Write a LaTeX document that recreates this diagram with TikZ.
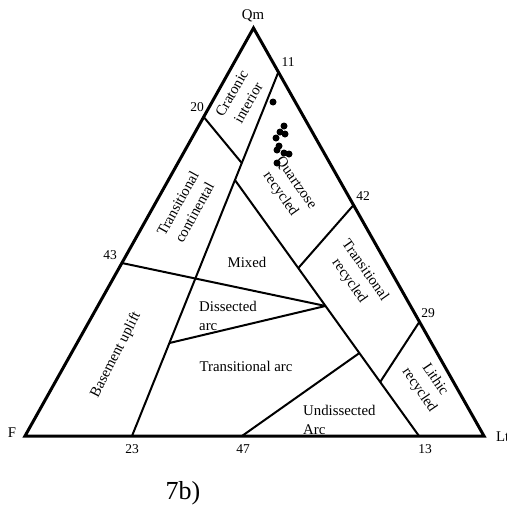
\documentclass[tikz,border=0pt]{standalone}
\usepackage{fontspec}
\setmainfont{Liberation Serif}
\usetikzlibrary{calc}
\begin{document}
\begin{tikzpicture}[x=1pt,y=-1pt,
  outer/.style={line width=3pt,line join=miter},
  inner/.style={line width=2pt},
  lab/.style={inner sep=0pt,font=\fontsize{14.8}{19}\selectfont,align=center},
  num/.style={inner sep=0pt,font=\fontsize{13.5}{16}\selectfont},
  dot/.style={circle,fill=black,inner sep=0pt,minimum size=7pt}]
\useasboundingbox (0,0) rectangle (507,506);
% vertices
\coordinate (Q) at (253.5,28);
\coordinate (F) at (25,436);
\coordinate (L) at (484,436);
% edge points
\coordinate (p11) at ($(Q)!0.108!(L)$);
\coordinate (p42) at ($(Q)!0.434!(L)$);
\coordinate (p29) at ($(Q)!0.72!(L)$);
\coordinate (p20) at ($(Q)!0.218!(F)$);
\coordinate (p43) at ($(Q)!0.576!(F)$);
\coordinate (p23) at (132,436);
\coordinate (p47) at (242,436);
\coordinate (p13) at (419,436);
% internal points
\coordinate (A) at ($(p11)!0.25!(p23)$);
\coordinate (B) at ($(p11)!0.2967!(p23)$);
\coordinate (H) at ($(p11)!0.7445!(p23)$);
\coordinate (C) at ($(B)!0.492!(p13)$);
\coordinate (D) at ($(B)!0.344!(p13)$);
\coordinate (G) at ($(B)!0.676!(p13)$);
\coordinate (E) at ($(B)!0.789!(p13)$);
% inner lines
\draw[inner] (p11) -- (p23);
\draw[inner] (p20) -- (A);
\draw[inner] (B) -- (p13);
\draw[inner] (p42) -- (D);
\draw[inner] (p29) -- (E);
\draw[inner] (p43) -- (C);
\draw[inner] (H) -- (C);
\draw[inner] (p47) -- (G);
% outer triangle
\draw[outer] (Q) -- (L) -- (F) -- cycle;
% vertex labels
\node[lab] (lQm) at (253,16) {Qm};
\node[lab] (lF) at (12,433) {F};
\node[lab,anchor=west] (lLt) at (496,437) {Lt};
% numbers
\node[num] (n11) at (288,62) {11};
\node[num] (n20) at (197,107) {20};
\node[num] (n43) at (110,255) {43};
\node[num] (n42) at (363,196) {42};
\node[num] (n29) at (428,313) {29};
\node[num] (n23) at (132,449) {23};
\node[num] (n47) at (243,449) {47};
\node[num] (n13) at (425,449) {13};
% region labels
\node[lab,rotate=60] (rci) at (240,98) {Cratonic\\interior};
\node[lab,rotate=61] (rtc) at (186,208) {Transitional\\continental};
\node[lab,rotate=63] (rbu) at (116,355) {Basement uplift};
\node[lab,rotate=-55] (rqr) at (288,189) {Quartzose\\recycled};
\node[lab,rotate=-55] (rtr) at (357,276) {Transitional\\recycled};
\node[lab,rotate=-56] (rlr) at (427,385) {Lithic\\recycled};
\node[lab] (rmx) at (247,262) {Mixed};
\node[lab,align=left,anchor=west] (rda) at (199,316) {Dissected\\arc};
\node[lab] (rta) at (246,366) {Transitional arc};
\node[lab,align=left,anchor=west] (rua) at (303,420) {Undissected\\Arc};
% caption
\node[inner sep=0pt,font=\fontsize{26}{30}\selectfont] (cap) at (183,493) {7b)};
% data points
\foreach \i/\p in {1/{(273,102)},2/{(284,126)},3/{(280,132)},4/{(285,134)},5/{(276,138)},6/{(279,146)},7/{(277,150)},8/{(284,153)},9/{(289,154)},10/{(277,163)}}
  \node[dot] (d\i) at \p {};
\end{tikzpicture}
\end{document}
